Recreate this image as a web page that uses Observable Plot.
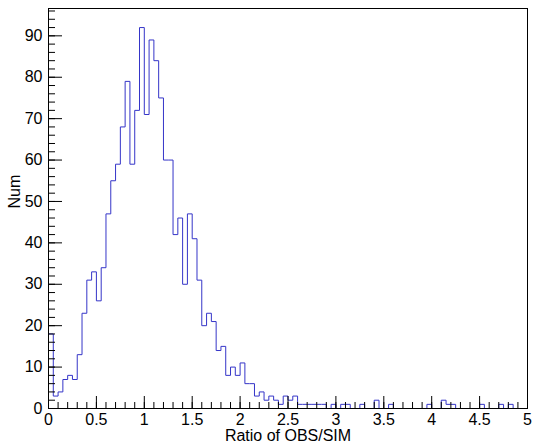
<!DOCTYPE html>
<html><head><meta charset="utf-8">
<script src="https://cdn.jsdelivr.net/npm/d3@7"></script>
<script src="https://cdn.jsdelivr.net/npm/@observablehq/plot@0.6"></script>
<style>body{margin:0;background:#fff}#chart{width:537px;height:448px}</style>
</head><body><div id="chart"></div>
<script>
// Histogram: 100 bins from 0 to 5 (bin width 0.05)
const binWidth = 0.05;
const xMin = 0, xMax = 5;
const counts = [
  18, 3, 4, 7, 8, 7, 13, 23, 31, 33,
  26, 34, 47, 55, 59, 68, 79, 59, 72, 92,
  71, 89, 84, 75, 60, 60, 42, 46, 30, 47,
  41, 31, 20, 23, 21, 14, 15, 8, 10, 8,
  11, 6, 6, 3, 4, 2, 3, 2, 1, 3,
  2, 3, 1, 1, 1, 1, 1, 1, 0, 1,
  0, 1, 1, 0, 0, 1, 0, 0, 2, 0,
  0, 1, 0, 0, 0, 0, 0, 0, 0, 1,
  0, 0, 2, 1, 1, 0, 0, 0, 0, 0,
  1, 0, 0, 0, 1, 0, 1, 0, 0, 0
];
const yMax = 96.6;
const xTicksMajor = [0, 0.5, 1, 1.5, 2, 2.5, 3, 3.5, 4, 4.5, 5];
const xTickLabels = ["0", "0.5", "1", "1.5", "2", "2.5", "3", "3.5", "4", "4.5", "5"];
const xTicksMinor = d3.range(0, 51).map(i => i / 10);
const yTicksMajor = [0, 10, 20, 30, 40, 50, 60, 70, 80, 90];
const yTickLabels = ["0", "10", "20", "30", "40", "50", "60", "70", "80", "90"];
const yTicksMinor = d3.range(0, 97, 2);
const xTitle = "Ratio of OBS/SIM";
const yTitle = "Num";

// step outline built from bin edges
const steps = d3.range(counts.length + 1).map(i => ({
  x: xMin + i * binWidth,
  y: counts[Math.min(i, counts.length - 1)]
}));

const font = "'Liberation Sans', Arial, Helvetica, sans-serif";
const chart = Plot.plot({
  width: 537,
  height: 448,
  marginLeft: 48,
  marginRight: 10,
  marginTop: 8,
  marginBottom: 40,
  style: {fontFamily: font, fontSize: "16px", color: "#000", background: "#fff"},
  x: {domain: [xMin, xMax], axis: null},
  y: {domain: [0, yMax], axis: null},
  marks: [
    Plot.line(steps, {x: "x", y: "y", curve: "step-after", stroke: "#3535c8", strokeWidth: 1}),
    Plot.frame({stroke: "#000", strokeWidth: 1}),
    Plot.axisY(yTicksMinor, {anchor: "left", tickSize: -7, tickFormat: () => "", label: null, stroke: "#000"}),
    Plot.axisY(yTicksMajor, {anchor: "left", tickSize: -14, tickFormat: () => "", label: null, stroke: "#000"}),
    Plot.axisY(yTicksMajor, {anchor: "left", tickSize: 0, tickPadding: 6, tickFormat: (d, i) => yTickLabels[i], label: null, fontSize: 16, fill: "#000"}),
    Plot.axisX(xTicksMinor, {anchor: "bottom", tickSize: -6, tickFormat: () => "", label: null, stroke: "#000"}),
    Plot.axisX(xTicksMajor, {anchor: "bottom", tickSize: -12, tickFormat: () => "", label: null, stroke: "#000"}),
    Plot.axisX(xTicksMajor, {anchor: "bottom", tickSize: 0, tickPadding: 5, tickFormat: (d, i) => xTickLabels[i], label: null, fontSize: 16, fill: "#000"}),
    Plot.text([xTitle], {frameAnchor: "bottom", dy: 32, text: d => d, fontSize: 16, fill: "#000"}),
    Plot.text([yTitle], {frameAnchor: "left", dx: -34, rotate: -90, text: d => d, fontSize: 16, fill: "#000"})
  ]
});
document.getElementById("chart").appendChild(chart);
</script>
</body></html>
